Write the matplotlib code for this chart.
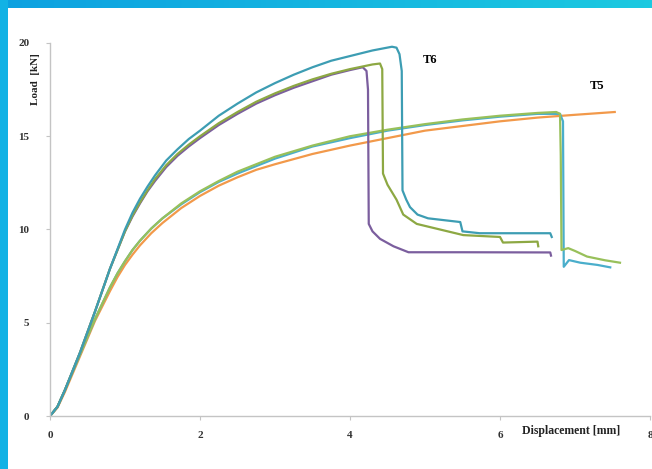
import matplotlib
matplotlib.use("Agg")
import matplotlib.pyplot as plt
import numpy as np

# Load-displacement curves, T6 specimens (displacement mm, load kN)
t6_teal_x = [0, 0.1, 0.2, 0.4, 0.6, 0.8, 1.0, 1.1, 1.2, 1.3, 1.4, 1.55, 1.7, 1.85, 2.0, 2.25, 2.5,
             2.75, 3.0, 3.25, 3.5, 3.75, 4.0, 4.3, 4.56, 4.62, 4.66, 4.69, 4.70, 4.75, 4.8, 4.9,
             5.04, 5.47, 5.5, 5.73, 6.67, 6.69]
t6_teal_y = [0, 0.5, 1.4, 3.4, 5.6, 7.9, 10.0, 10.9, 11.65, 12.3, 12.9, 13.7, 14.3, 14.85, 15.3, 16.1, 16.75,
             17.35, 17.85, 18.3, 18.7, 19.05, 19.3, 19.6, 19.8, 19.75, 19.4, 18.5, 12.1, 11.6, 11.2, 10.8,
             10.6, 10.4, 9.9, 9.8, 9.8, 9.6]

t6_green_x = [0, 0.1, 0.2, 0.4, 0.6, 0.8, 1.0, 1.1, 1.2, 1.3, 1.4, 1.55, 1.7, 1.85, 2.0, 2.25, 2.5,
              2.75, 3.0, 3.25, 3.5, 3.75, 4.0, 4.3, 4.4, 4.43, 4.44, 4.5, 4.62, 4.71, 4.89, 5.2,
              5.51, 6.0, 6.04, 6.5, 6.51]
t6_green_y = [0, 0.5, 1.4, 3.4, 5.6, 7.9, 9.9, 10.75, 11.45, 12.1, 12.7, 13.45, 14.05, 14.55, 15.0, 15.7, 16.3,
              16.85, 17.3, 17.7, 18.05, 18.35, 18.6, 18.85, 18.9, 18.6, 13.0, 12.4, 11.6, 10.8, 10.3, 10.0,
              9.7, 9.6, 9.3, 9.35, 9.1]

t6_purple_x = [0, 0.1, 0.2, 0.4, 0.6, 0.8, 1.0, 1.1, 1.2, 1.3, 1.4, 1.55, 1.7, 1.85, 2.0, 2.25, 2.5,
               2.75, 3.0, 3.25, 3.5, 3.75, 4.0, 4.17, 4.22, 4.24, 4.25, 4.3, 4.4, 4.58, 4.78, 5.5,
               6.67, 6.68]
t6_purple_y = [0, 0.5, 1.4, 3.4, 5.6, 7.9, 9.9, 10.7, 11.4, 12.05, 12.6, 13.35, 13.95, 14.45, 14.9, 15.6, 16.2,
               16.75, 17.2, 17.6, 17.95, 18.3, 18.55, 18.7, 18.5, 17.5, 10.3, 9.9, 9.5, 9.1, 8.78, 8.78,
               8.77, 8.6]

# T5 specimens
t5_green_x = [0, 0.1, 0.2, 0.4, 0.6, 0.8, 0.9, 1.0, 1.1, 1.2, 1.35, 1.5, 1.75, 2.0, 2.25, 2.5, 2.75,
              3.0, 3.5, 4.0, 4.5, 5.0, 5.5, 6.0, 6.5, 6.75, 6.80, 6.81, 6.82, 6.91, 7.0, 7.16, 7.4, 7.6]
t5_green_y = [0, 0.5, 1.4, 3.3, 5.2, 6.9, 7.65, 8.3, 8.9, 9.4, 10.05, 10.6, 11.4, 12.05, 12.6, 13.1, 13.5,
              13.9, 14.5, 15.0, 15.35, 15.65, 15.9, 16.1, 16.25, 16.3, 16.2, 14.0, 8.9, 9.0, 8.85, 8.55,
              8.35, 8.22]

t5_aqua_x = [0, 0.1, 0.2, 0.4, 0.6, 0.8, 0.9, 1.0, 1.1, 1.2, 1.35, 1.5, 1.75, 2.0, 2.25, 2.5, 2.75,
             3.0, 3.5, 4.0, 4.5, 5.0, 5.5, 6.0, 6.5, 6.8, 6.84, 6.85, 6.92, 7.07, 7.3, 7.47]
t5_aqua_y = [0, 0.5, 1.4, 3.3, 5.2, 6.9, 7.65, 8.3, 8.9, 9.4, 10.05, 10.6, 11.35, 12.0, 12.55, 13.0, 13.4,
             13.8, 14.45, 14.9, 15.3, 15.6, 15.85, 16.05, 16.2, 16.2, 15.8, 8.0, 8.36, 8.22, 8.1, 7.97]

t5_orange_x = [0, 0.1, 0.2, 0.4, 0.6, 0.8, 0.9, 1.0, 1.1, 1.2, 1.35, 1.5, 1.75, 2.0, 2.25, 2.5, 2.75,
               3.0, 3.5, 4.0, 4.5, 5.0, 5.5, 6.0, 6.5, 7.0, 7.53]
t5_orange_y = [0, 0.45, 1.3, 3.2, 5.1, 6.7, 7.45, 8.1, 8.65, 9.15, 9.8, 10.35, 11.15, 11.8, 12.35, 12.8, 13.2,
               13.5, 14.05, 14.5, 14.9, 15.3, 15.55, 15.8, 16.0, 16.15, 16.3]

x_ticks = [0, 2, 4, 6, 8]
y_ticks = [0, 5, 10, 15, 20]

W, H = 652, 469
fig = plt.figure(figsize=(W / 100, H / 100), dpi=100)

# cyan frame along the top and left edges
bg = np.ones((H, W, 3))
band = 8
grad = np.linspace(0, 1, W)[None, :]
c0 = np.array([0.05, 0.63, 0.88])
c1 = np.array([0.11, 0.79, 0.88])
top = c0 + (c1 - c0) * grad[..., None]
bg[:band, :, :] = top
bg[:, :band, :] = np.array([0.07, 0.70, 0.90])
bax = fig.add_axes([0, 0, 1, 1], zorder=-1)
bax.imshow(bg, aspect="auto", extent=[0, W, H, 0])
bax.axis("off")

serif = "Liberation Serif"
ax = fig.add_axes([50 / W, (H - 416) / H, 600 / W, 373 / H])
ax.patch.set_alpha(0)

lw = 1.6
ax.plot(t5_orange_x, t5_orange_y, color="#F2994A", lw=lw)
ax.plot(t5_aqua_x, t5_aqua_y, color="#4AAECB", lw=lw)
ax.plot(t5_green_x, t5_green_y, color="#98C05A", lw=lw)
ax.plot(t6_purple_x, t6_purple_y, color="#7B5E9E", lw=lw)
ax.plot(t6_green_x, t6_green_y, color="#8DA843", lw=lw)
ax.plot(t6_teal_x, t6_teal_y, color="#3D9DB3", lw=lw)

ax.set_xlim(0, 8)
ax.set_ylim(0, 20)
ax.set_xticks(x_ticks)
ax.set_yticks(y_ticks)
for s in ["top", "right"]:
    ax.spines[s].set_visible(False)
for s in ["left", "bottom"]:
    ax.spines[s].set_color("#C4C4C4")
    ax.spines[s].set_linewidth(1.0)
ax.tick_params(axis="both", colors="#C4C4C4", length=3, width=0.8, labelcolor="#333333",
               labelsize=8)
ax.tick_params(axis="y", pad=12)
ax.tick_params(axis="x", pad=8)
for lab in ax.get_xticklabels() + ax.get_yticklabels():
    lab.set_fontfamily(serif)
    lab.set_fontweight("bold")

ax.text(5.07, 19.1, "T6", fontfamily=serif, fontweight="bold", fontsize=9, ha="center", va="center")
ax.text(7.29, 17.7, "T5", fontfamily=serif, fontweight="bold", fontsize=9, ha="center", va="center")

fig.text(35 / W, 1 - 79 / H, "Load  [kN]", rotation=90, fontfamily=serif, fontweight="bold",
         fontsize=8, ha="center", va="center", color="#222222")
fig.text(571 / W, 1 - 431 / H, "Displacement [mm]", fontfamily=serif, fontweight="bold",
         fontsize=8.5, ha="center", va="center", color="#222222")

fig.savefig("out.png", dpi=100)
